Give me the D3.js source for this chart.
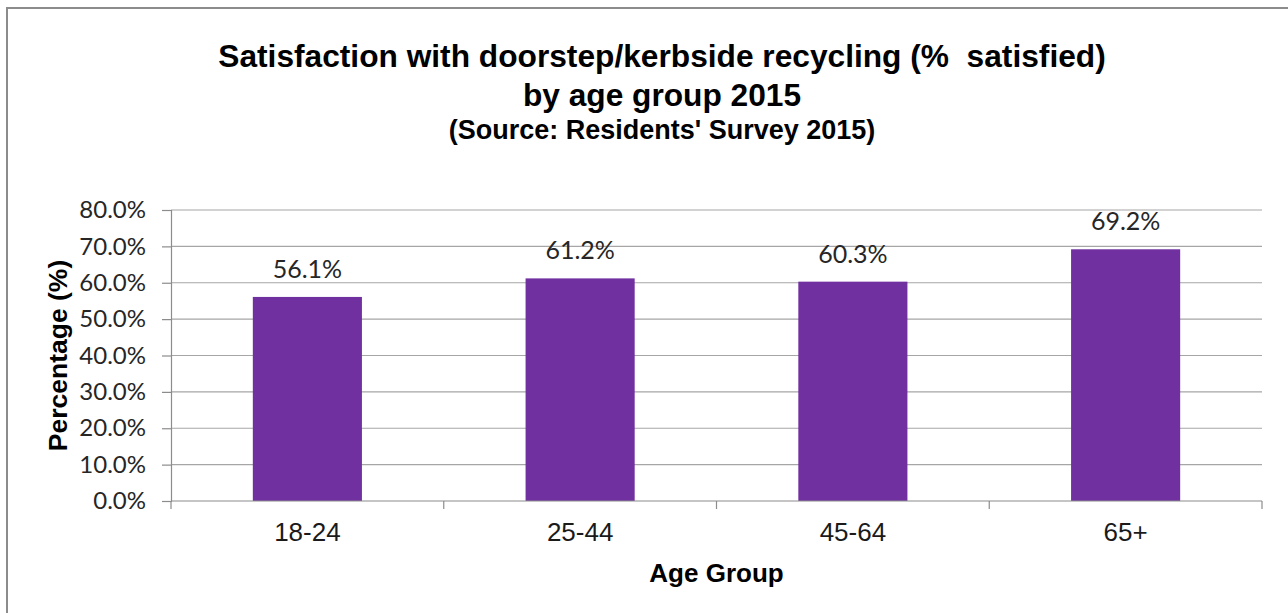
<!DOCTYPE html>
<html>
<head>
<meta charset="utf-8">
<script src="https://cdn.jsdelivr.net/npm/d3@7"></script>
<style>
  html, body { margin: 0; padding: 0; background: #fff; }
  svg { display: block; }
</style>
</head>
<body>
<svg id="chart" width="1288" height="613"></svg>
<script>
// Satisfaction with doorstep/kerbside recycling by age group, 2015
const ageGroups = ["18-24", "25-44", "45-64", "65+"];
const satisfied = [56.1, 61.2, 60.3, 69.2];
const yTicks = [0, 10, 20, 30, 40, 50, 60, 70, 80];

const svg = d3.select("#chart");
const W = 1288, H = 613;
const margin = { left: 171, right: 26, top: 210, bottom: 112 };
const bodyFont = "Lato, 'Open Sans', sans-serif";
const headFont = "'Liberation Sans', Arial, sans-serif";

// outer chart frame
svg.append("rect")
  .attr("x", 7).attr("y", 8)
  .attr("width", W + 10).attr("height", H + 10)
  .attr("fill", "#fff").attr("stroke", "#8c8c8c").attr("stroke-width", 2);

const x = d3.scaleBand()
  .domain(ageGroups)
  .range([margin.left, W - margin.right])
  .paddingInner(0.6)
  .paddingOuter(0.3);

const y = d3.scaleLinear()
  .domain([0, 80])
  .range([H - margin.bottom, margin.top]);

// gridlines
svg.append("g")
  .selectAll("line")
  .data(yTicks.filter(d => d > 0))
  .join("line")
  .attr("x1", margin.left).attr("x2", W - margin.right)
  .attr("y1", d => y(d)).attr("y2", d => y(d))
  .attr("stroke", "#a6a6a6").attr("stroke-width", 1.2);

// y axis
const yAxis = svg.append("g")
  .attr("transform", `translate(${margin.left},0)`)
  .call(d3.axisLeft(y).tickValues(yTicks).tickSize(9).tickPadding(16)
    .tickFormat(d => d.toFixed(1) + "%"));
yAxis.select(".domain").attr("stroke", "#8c8c8c").attr("stroke-width", 1.2);
yAxis.selectAll(".tick line").attr("stroke", "#8c8c8c").attr("stroke-width", 1.2);
yAxis.selectAll(".tick text")
  .attr("font-family", bodyFont)
  .attr("font-size", 24).attr("fill", "#262626");

// bars
svg.append("g")
  .selectAll("rect")
  .data(ageGroups)
  .join("rect")
  .attr("x", d => x(d))
  .attr("width", x.bandwidth())
  .attr("y", (d, i) => y(satisfied[i]))
  .attr("height", (d, i) => y(0) - y(satisfied[i]))
  .attr("fill", "#7030a0");

// value labels
svg.append("g")
  .selectAll("text")
  .data(ageGroups)
  .join("text")
  .attr("x", d => x(d) + x.bandwidth() / 2)
  .attr("y", (d, i) => y(satisfied[i]) - 19)
  .attr("text-anchor", "middle")
  .attr("font-family", bodyFont)
  .attr("font-size", 25).attr("fill", "#262626")
  .text((d, i) => satisfied[i].toFixed(1) + "%");

// x axis with ticks between categories
const xAxisG = svg.append("g").attr("transform", `translate(0,${y(0)})`);
const step = x.step();
const boundaries = d3.range(ageGroups.length + 1).map(i => margin.left + i * step);
xAxisG.append("line")
  .attr("x1", margin.left).attr("x2", W - margin.right)
  .attr("stroke", "#8c8c8c").attr("stroke-width", 1.2);
xAxisG.selectAll(".btick")
  .data(boundaries)
  .join("line")
  .attr("class", "btick")
  .attr("x1", d => d).attr("x2", d => d)
  .attr("y1", 0).attr("y2", 8)
  .attr("stroke", "#8c8c8c").attr("stroke-width", 1.2);
xAxisG.selectAll(".xl")
  .data(ageGroups)
  .join("text")
  .attr("class", "xl")
  .attr("x", d => x(d) + x.bandwidth() / 2)
  .attr("y", 40)
  .attr("text-anchor", "middle")
  .attr("font-family", headFont)
  .attr("font-size", 26).attr("fill", "#1a1a1a")
  .text(d => d);

// axis titles
svg.append("text")
  .attr("x", (margin.left + W - margin.right) / 2)
  .attr("y", 582)
  .attr("text-anchor", "middle")
  .attr("font-family", headFont)
  .attr("font-weight", "bold").attr("font-size", 26).attr("fill", "#000")
  .text("Age Group");

svg.append("text")
  .attr("transform", `translate(67,${(y(0) + y(80)) / 2}) rotate(-90)`)
  .attr("text-anchor", "middle")
  .attr("font-family", headFont)
  .attr("font-weight", "bold").attr("font-size", 26.5).attr("fill", "#000")
  .text("Percentage (%)");

// chart title
const title = svg.append("text")
  .attr("text-anchor", "middle")
  .attr("font-family", headFont)
  .attr("font-weight", "bold").attr("fill", "#000")
  .style("white-space", "pre");
title.append("tspan").attr("x", 662).attr("y", 67).attr("font-size", 31.7)
  .text("Satisfaction with doorstep/kerbside recycling (%\u00a0 satisfied)");
title.append("tspan").attr("x", 662).attr("y", 106).attr("font-size", 31.7)
  .text("by age group 2015");
title.append("tspan").attr("x", 662).attr("y", 139).attr("font-size", 27)
  .text("(Source: Residents' Survey 2015)");
</script>
</body>
</html>
